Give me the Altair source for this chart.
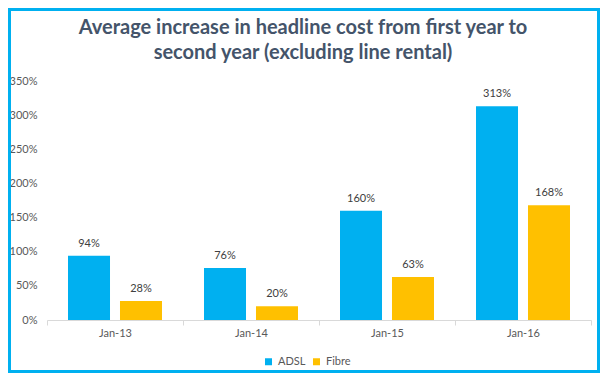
import altair as alt
import pandas as pd

years = ["Jan-13", "Jan-14", "Jan-15", "Jan-16"]
series = ["ADSL", "Fibre"]
adsl = [0.94, 0.76, 1.60, 3.13]
fibre = [0.28, 0.20, 0.63, 1.68]
colors = ["#00B0F0", "#FFC000"]
y_ticks = [0, 0.5, 1.0, 1.5, 2.0, 2.5, 3.0, 3.5]
title_lines = ["Average increase in headline cost from first year to",
               "second year (excluding line rental)"]

rows = []
for i, yr in enumerate(years):
    rows.append({"year": yr, "series": "ADSL", "value": adsl[i]})
    rows.append({"year": yr, "series": "Fibre", "value": fibre[i]})
df = pd.DataFrame(rows)

FONT = "Lato"
W, H = 544, 239
PAD = {"left": 39, "top": 73, "right": 9, "bottom": 53}

base = alt.Chart(df).encode(
    x=alt.X("year:N", sort=years, title=None,
            scale=alt.Scale(paddingInner=0, paddingOuter=0),
            axis=alt.Axis(labelAngle=0, tickBand="extent", domainColor="#D9D9D9",
                          tickColor="#D9D9D9", tickSize=5, labelColor="#595959",
                          labelFontSize=11, labelPadding=2, labelFont=FONT)),
    xOffset=alt.XOffset("series:N", sort=series,
                        scale=alt.Scale(paddingInner=0.192, paddingOuter=0.404)),
    y=alt.Y("value:Q", title=None, scale=alt.Scale(domain=[0, 3.5], nice=False),
            axis=alt.Axis(values=y_ticks, format=".0%", grid=False, domain=False,
                          ticks=False, labelPadding=10, labelColor="#595959",
                          labelFontSize=11, labelFont=FONT, labelOverlap=False)),
)

bars = base.mark_bar().encode(
    color=alt.Color("series:N", sort=series,
                    scale=alt.Scale(domain=series, range=colors),
                    legend=alt.Legend(title=None, orient="none", direction="horizontal",
                                      legendX=216, legendY=275, symbolType="square",
                                      symbolSize=49, symbolStrokeWidth=0,
                                      labelFontSize=11, labelColor="#595959",
                                      labelFont=FONT, labelOffset=4, columnPadding=5)),
)

labels = base.mark_text(baseline="bottom", dy=-7, fontSize=11, color="#404040",
                        font=FONT).encode(
    text=alt.Text("value:Q", format=".0%"),
)

border = alt.Chart(alt.Data(values=[{"k": 1}])).mark_rect(
    fill=None, stroke="#00B0F0", strokeWidth=3
).encode(
    x=alt.value(-PAD["left"] + 1.5),
    x2=alt.value(W + PAD["right"] - 1.5),
    y=alt.value(-PAD["top"] + 1.5),
    y2=alt.value(H + PAD["bottom"] - 1.5),
)

chart = alt.layer(bars, labels, border).properties(
    width=W, height=H,
    padding=PAD,
    autosize=alt.AutoSizeParams(type="none"),
    background="white",
    title=alt.TitleParams(title_lines, fontSize=20, font=FONT, fontWeight="bold",
                          color="#44546A", lineHeight=25, anchor="middle",
                          offset=0, dy=55, dx=-16),
).configure_view(stroke=None)

chart.save("out.html", embed_options={"renderer": "svg", "actions": False})
